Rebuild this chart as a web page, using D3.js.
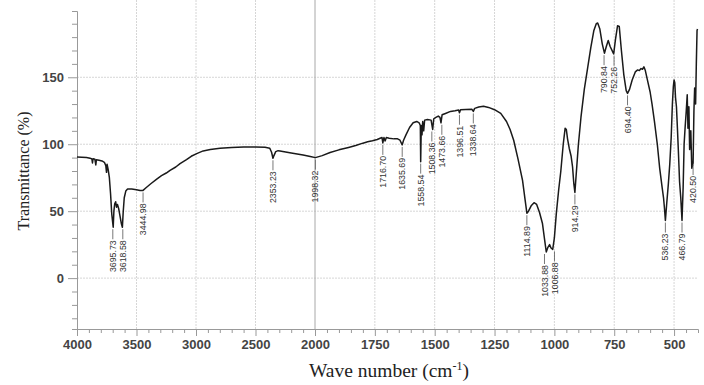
<!DOCTYPE html>
<html>
<head>
<meta charset="utf-8">
<script src="https://cdn.jsdelivr.net/npm/d3@7"></script>
<style>
  body { margin: 0; background: #fff; }
  svg { display: block; }
  .tick-label { font-family: "Liberation Sans", Arial, sans-serif; font-size: 13px; font-weight: bold; fill: #444; }
  .axis-title { font-family: "Liberation Serif", "Times New Roman", serif; fill: #222; }
  .peak-label { font-family: "Liberation Sans", Arial, sans-serif; font-size: 8.8px; fill: #333; }
</style>
</head>
<body>
<script>
// spectrum (wave number, transmittance %)
var waveNumbers = [
  4000, 3960, 3920, 3890, 3875, 3870, 3865, 3850, 3842, 3837, 3815, 3790, 3770, 3758, 3752, 3747, 3738, 3728, 3718, 3708,
  3695.73, 3690, 3683, 3675, 3668, 3660, 3650, 3640, 3628, 3618.58, 3612, 3603, 3590, 3575, 3540, 3500, 3470, 3444.98,
  3420, 3380, 3330, 3290, 3250, 3218, 3170, 3134, 3080, 3040, 2994, 2940, 2880, 2798, 2700, 2600, 2500, 2420, 2380, 2365,
  2353.23, 2345, 2330, 2310, 2294, 2200, 2100, 2040, 1998.32, 1970, 1937, 1900, 1860, 1830, 1800, 1780, 1760, 1740, 1728,
  1720, 1716.70, 1712, 1707, 1702, 1690, 1670, 1655, 1645, 1635.69, 1630, 1620, 1605, 1590, 1575, 1565, 1560, 1558.54,
  1556, 1553, 1550, 1546, 1542, 1530, 1515, 1508.36, 1504, 1495, 1485, 1478, 1473.66, 1469, 1455, 1434, 1415, 1400,
  1396.51, 1392, 1370, 1345, 1338.64, 1333, 1316, 1296, 1275, 1250, 1224, 1200, 1185, 1170, 1152, 1133, 1122, 1114.89,
  1108, 1097, 1085, 1074, 1062, 1050, 1041, 1033.88, 1027, 1020, 1014, 1006.88, 1000, 992, 982, 973, 963, 955, 950, 945,
  938, 930, 924, 919, 914.29, 909, 900, 889, 875, 861, 848, 835, 825, 819, 810, 800, 790.84, 783, 775, 767, 752.26, 745,
  736, 729, 720, 710, 700, 694.40, 686, 675, 662, 652, 645, 638, 632, 626, 620, 610, 600, 592, 582, 570, 560, 550, 544,
  540, 536.23, 531, 524, 518, 512, 507, 503, 500, 497, 494, 490, 486, 482, 477, 472, 466.79, 462, 458, 454, 449, 445,
  442, 438, 435, 430, 426, 420.50, 417, 414, 410, 407, 404, 402
];
var transmittance = [
  90.5, 90.3, 90, 89.6, 89, 86, 89.2, 88.8, 84.5, 88.4, 88, 87.5, 86.5, 84, 79, 85, 81, 75, 63, 48,
  38, 50, 55.5, 57, 53, 55, 52, 47, 41, 38, 49, 60, 65, 66.5, 66.5, 66, 65.5, 65.5,
  67.5, 70.5, 74, 76.5, 78.5, 80.5, 83, 85.5, 88.5, 91, 93, 95, 96, 97, 97.6, 98, 98, 97.8, 97, 94,
  89.5, 91.5, 94.5, 95.2, 95, 93.5, 92, 90.8, 90, 91.5, 93.8, 95.8, 97.6, 99, 100.8, 101.8, 102.6, 103.5, 104.5,
  105, 101, 105, 102.5, 105, 104.5, 104, 104, 103, 99.5, 103, 107, 112.5, 116, 117, 116, 114, 87,
  114, 107, 117, 110, 118, 118.5, 118, 111, 119, 120, 121, 120, 116, 122, 123, 124.5, 125, 125.5,
  123.5, 125.8, 126, 126.2, 124.5, 126.8, 127.8, 128.4, 127.5, 125.8, 123, 117, 111, 103, 89, 73, 58, 48.5,
  50, 54, 56.3, 55, 49, 41, 29, 19.5, 23, 25, 22.5, 21.5, 30, 48, 66, 80, 100, 112, 111, 104,
  97, 91, 83, 71, 64, 77, 99, 120, 141, 157, 172, 185, 190, 190.5, 186, 175, 168, 173, 177.5, 173, 167.5, 178,
  188.5, 188, 170, 152, 140, 138, 141, 148, 154, 155.5, 155, 156.5, 156, 157.8, 155, 147, 139, 130, 117, 100, 82, 68, 60,
  52, 43, 55, 70, 85, 105, 130, 143, 148, 146, 135, 128, 112, 95, 72, 60, 43, 68, 100, 112, 125, 137,
  112, 128, 96, 110, 82, 86, 125, 142, 130, 160, 185, 186
];

var peakWaves = [3695.73, 3618.58, 3444.98, 2353.23, 1998.32, 1716.70, 1635.69, 1558.54, 1508.36, 1473.66,
  1396.51, 1338.64, 1114.89, 1033.88, 1006.88, 914.29, 790.84, 752.26, 694.40, 536.23, 466.79, 420.50];

var xTicks = [4000, 3500, 3000, 2500, 2000, 1750, 1500, 1250, 1000, 750, 500];
var yTicks = [0, 50, 100, 150];

var width = 704, height = 385;
var svg = d3.select("body").append("svg")
  .attr("width", width)
  .attr("height", height);

// x axis has a scale change at 2000 cm-1
var x = d3.scaleLinear()
  .domain([4000, 2000, 400])
  .range([77, 315, 698]);

var y = d3.scaleLinear()
  .domain([-38, 199.5])
  .range([329, 11]);

var left = x(4000), right = x(400), top = y(199.5), bottom = y(-38);

// grid
svg.append("g").selectAll("line")
  .data(xTicks.filter(function (d) { return d !== 4000 && d !== 2000; }))
  .enter().append("line")
  .attr("x1", function (d) { return x(d); })
  .attr("x2", function (d) { return x(d); })
  .attr("y1", top).attr("y2", bottom)
  .attr("stroke", "#d6d6d6").attr("stroke-dasharray", "2,1");

svg.append("g").selectAll("line")
  .data(yTicks)
  .enter().append("line")
  .attr("x1", left).attr("x2", right)
  .attr("y1", function (d) { return y(d); })
  .attr("y2", function (d) { return y(d); })
  .attr("stroke", "#d6d6d6").attr("stroke-dasharray", "2,1");

// frame
svg.append("rect")
  .attr("x", left).attr("y", top)
  .attr("width", right - left).attr("height", bottom - top)
  .attr("fill", "none").attr("stroke", "#c8c8c8");

// scale break line
svg.append("line")
  .attr("x1", x(2000)).attr("x2", x(2000))
  .attr("y1", top).attr("y2", bottom)
  .attr("stroke", "#a8a8a8");

// y axis
var yAxis = d3.axisLeft(y)
  .tickValues(d3.range(-30, 200, 10))
  .tickSize(5)
  .tickPadding(6)
  .tickFormat(function (d) { return yTicks.indexOf(d) >= 0 ? d : ""; });
var gy = svg.append("g")
  .attr("transform", "translate(" + left + ",0)")
  .call(yAxis);
gy.select(".domain").attr("stroke", "#999");
gy.selectAll(".tick line")
  .attr("stroke", "#999")
  .attr("x2", function (d) { return yTicks.indexOf(d) >= 0 ? -9 : -5; });
gy.selectAll(".tick text").attr("class", "tick-label").attr("x", -13);

// x axis
var minorX = d3.range(4000, 2000, -100).concat(d3.range(2000, 400, -50));
var xAxis = d3.axisBottom(x)
  .tickValues(minorX)
  .tickSize(4)
  .tickPadding(7)
  .tickFormat(function (d) { return xTicks.indexOf(d) >= 0 ? d : ""; });
var gx = svg.append("g")
  .attr("transform", "translate(0," + bottom + ")")
  .call(xAxis);
gx.select(".domain").attr("stroke", "#999");
gx.selectAll(".tick line")
  .attr("stroke", "#999")
  .attr("y2", function (d) { return xTicks.indexOf(d) >= 0 ? 7 : 4; });
gx.selectAll(".tick text").attr("class", "tick-label").attr("y", 11);

// spectrum
var spectrum = waveNumbers.map(function (w, i) { return [w, transmittance[i]]; });
var line = d3.line()
  .x(function (d) { return x(d[0]); })
  .y(function (d) { return y(d[1]); });

svg.append("path")
  .datum(spectrum)
  .attr("fill", "none")
  .attr("stroke", "#1a1a1a")
  .attr("stroke-width", 1.5)
  .attr("stroke-linejoin", "round")
  .attr("d", line);

// peak labels, spread apart where they crowd
var peaks = peakWaves.map(function (w) {
  var i = waveNumbers.indexOf(w);
  return { w: w, v: transmittance[i], px: x(w) };
});
for (var k = 1; k < peaks.length; k++) {
  var gap = peaks[k].px - peaks[k - 1].px;
  if (gap < 10) {
    var shift = (10 - gap) / 2;
    peaks[k - 1].px -= shift;
    peaks[k].px += shift;
  }
}

var pg = svg.append("g").selectAll("g")
  .data(peaks)
  .enter().append("g");

pg.append("line")
  .attr("x1", function (d) { return d.px; })
  .attr("x2", function (d) { return d.px; })
  .attr("y1", function (d) { return y(d.v) + 2; })
  .attr("y2", function (d) { return y(d.v) + 12; })
  .attr("stroke", "#555")
  .attr("stroke-width", 0.8);

pg.append("text")
  .attr("class", "peak-label")
  .attr("transform", function (d) { return "translate(" + d.px + "," + (y(d.v) + 13) + ") rotate(-90)"; })
  .attr("text-anchor", "end")
  .attr("dy", "0.35em")
  .text(function (d) { return d.w.toFixed(2); });

// axis titles
svg.append("text")
  .attr("class", "axis-title")
  .attr("font-size", 19.5)
  .attr("x", 389).attr("y", 377)
  .attr("text-anchor", "middle")
  .html("Wave number (cm<tspan dy='-7' font-size='12'>-1</tspan><tspan dy='7'>)</tspan>");

svg.append("text")
  .attr("class", "axis-title")
  .attr("font-size", 16)
  .attr("transform", "translate(29," + y(80) + ") rotate(-90)")
  .attr("text-anchor", "middle")
  .text("Transmittance (%)");
</script>
</body>
</html>
